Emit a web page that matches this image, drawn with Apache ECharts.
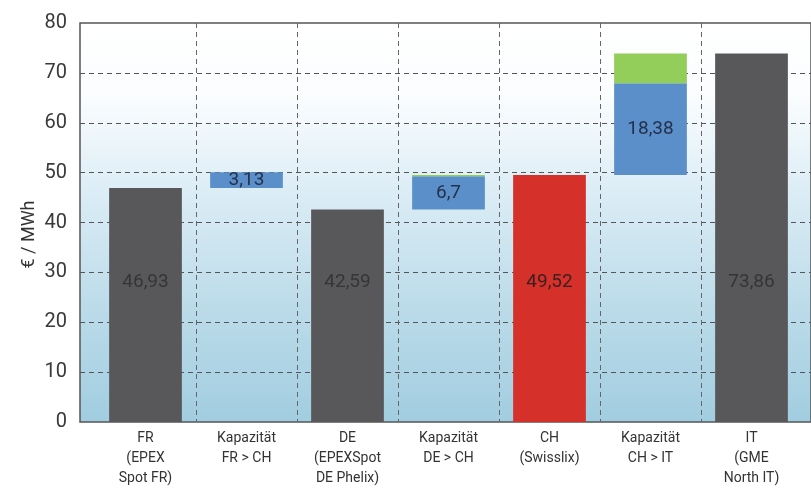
<!DOCTYPE html>
<html>
<head>
<meta charset="utf-8">
<script src="https://cdn.jsdelivr.net/npm/echarts@6/dist/echarts.min.js"></script>
<style>
  html, body { margin: 0; padding: 0; background: #ffffff; }
  #chart { width: 811px; height: 491px; }
</style>
</head>
<body>
<div id="chart"></div>
<script>
// Market prices and cross-border capacity costs, €/MWh
const categories = [
  'FR\n(EPEX\nSpot FR)',
  'Kapazität\nFR > CH',
  'DE\n(EPEXSpot\nDE Phelix)',
  'Kapazität\nDE > CH',
  'CH\n(Swisslix)',
  'Kapazität\nCH > IT',
  'IT\n(GME\nNorth IT)'
];
const priceFR = 46.93;
const priceDE = 42.59;
const priceCH = 49.52;
const priceIT = 73.86;

// Capacity costs (blue) and the remaining gap (green)
const capacityBlue = [null, 3.13, null, 6.7, null, 18.38, null];
const capacityGreen = [null, null, null, 0.23, null, 5.96, null];

// Invisible base under the floating capacity bars
const baseValues = [null, priceFR, null, priceDE, null, priceCH, null];
const greyPrices = [priceFR, null, priceDE, null, null, null, priceIT];
const redPrices = [null, null, null, null, priceCH, null, null];

const yTicks = { min: 0, max: 80, interval: 10 };

const fmt = v => String(v).replace('.', ',');
const FONT = 'Roboto, "Liberation Sans", Arial, sans-serif';

const chart = echarts.init(document.getElementById('chart'), null, { renderer: 'canvas' });

const grid = { top: 23, bottom: 69 };

chart.setOption({
  animation: false,
  grid: [
    {
      left: 80, right: -120, top: grid.top, bottom: grid.bottom,
      show: true,
      borderColor: '#555555',
      borderWidth: 1.5,
      backgroundColor: new echarts.graphic.LinearGradient(0, 0, 0, 1, [
        { offset: 0, color: '#ffffff' },
        { offset: 0.18, color: '#fbfdfe' },
        { offset: 0.42, color: '#dcedf6' },
        { offset: 0.7, color: '#bddcea' },
        { offset: 1, color: '#a1cde0' }
      ])
    },
    { left: 95, width: 707, top: grid.top, bottom: grid.bottom }
  ],
  xAxis: [
    { gridIndex: 0, type: 'value', show: false, min: 0, max: 1 },
    {
      gridIndex: 1,
      type: 'category',
      data: categories,
      axisLine: { show: false },
      axisTick: { show: false },
      axisLabel: {
        color: '#333333',
        fontFamily: FONT,
        fontSize: 14,
        lineHeight: 20,
        margin: 6,
        interval: 0
      },
      splitLine: {
        show: true,
        showMinLine: false,
        showMaxLine: false,
        lineStyle: { color: '#666666', type: [5, 4], width: 1 }
      }
    }
  ],
  yAxis: [
    {
      gridIndex: 0,
      type: 'value',
      min: yTicks.min, max: yTicks.max, interval: yTicks.interval,
      name: '€ / MWh',
      nameLocation: 'middle',
      nameGap: 42,
      nameMoveOverlap: false,
      nameTextStyle: { color: '#333333', fontFamily: FONT, fontSize: 18, padding: [0, 24, 0, 0] },
      axisLine: { show: false },
      axisTick: { show: false },
      axisLabel: { color: '#3a3a3a', fontFamily: FONT, fontSize: 20, margin: 13 },
      splitLine: {
        show: true,
        showMinLine: false,
        showMaxLine: false,
        lineStyle: { color: '#555555', type: [5, 4], width: 1 }
      }
    },
    {
      gridIndex: 1,
      type: 'value',
      min: yTicks.min, max: yTicks.max, interval: yTicks.interval,
      show: false
    }
  ],
  series: [
    {
      type: 'bar', xAxisIndex: 1, yAxisIndex: 1, stack: 'flow',
      barCategoryGap: '28%',
      data: baseValues,
      itemStyle: { color: 'transparent' },
      silent: true
    },
    {
      type: 'bar', xAxisIndex: 1, yAxisIndex: 1, stack: 'flow',
      data: greyPrices,
      itemStyle: { color: '#58585a' },
      label: {
        show: true, position: 'insideBottom', distance: 130,
        color: '#353535', fontFamily: FONT, fontSize: 19,
        formatter: p => fmt(p.value)
      }
    },
    {
      type: 'bar', xAxisIndex: 1, yAxisIndex: 1, stack: 'flow',
      data: redPrices,
      itemStyle: { color: '#d6302a' },
      label: {
        show: true, position: 'insideBottom', distance: 130,
        color: '#3a2020', fontFamily: FONT, fontSize: 19,
        formatter: p => fmt(p.value)
      }
    },
    {
      type: 'bar', xAxisIndex: 1, yAxisIndex: 1, stack: 'flow',
      data: capacityBlue,
      itemStyle: { color: '#5b8fca' },
      label: {
        show: true, position: 'inside',
        color: '#25304a', fontFamily: FONT, fontSize: 19,
        formatter: p => fmt(p.value)
      }
    },
    {
      type: 'bar', xAxisIndex: 1, yAxisIndex: 1, stack: 'flow',
      data: capacityGreen,
      itemStyle: { color: '#93cd5a' }
    }
  ]
});
</script>
</body>
</html>
